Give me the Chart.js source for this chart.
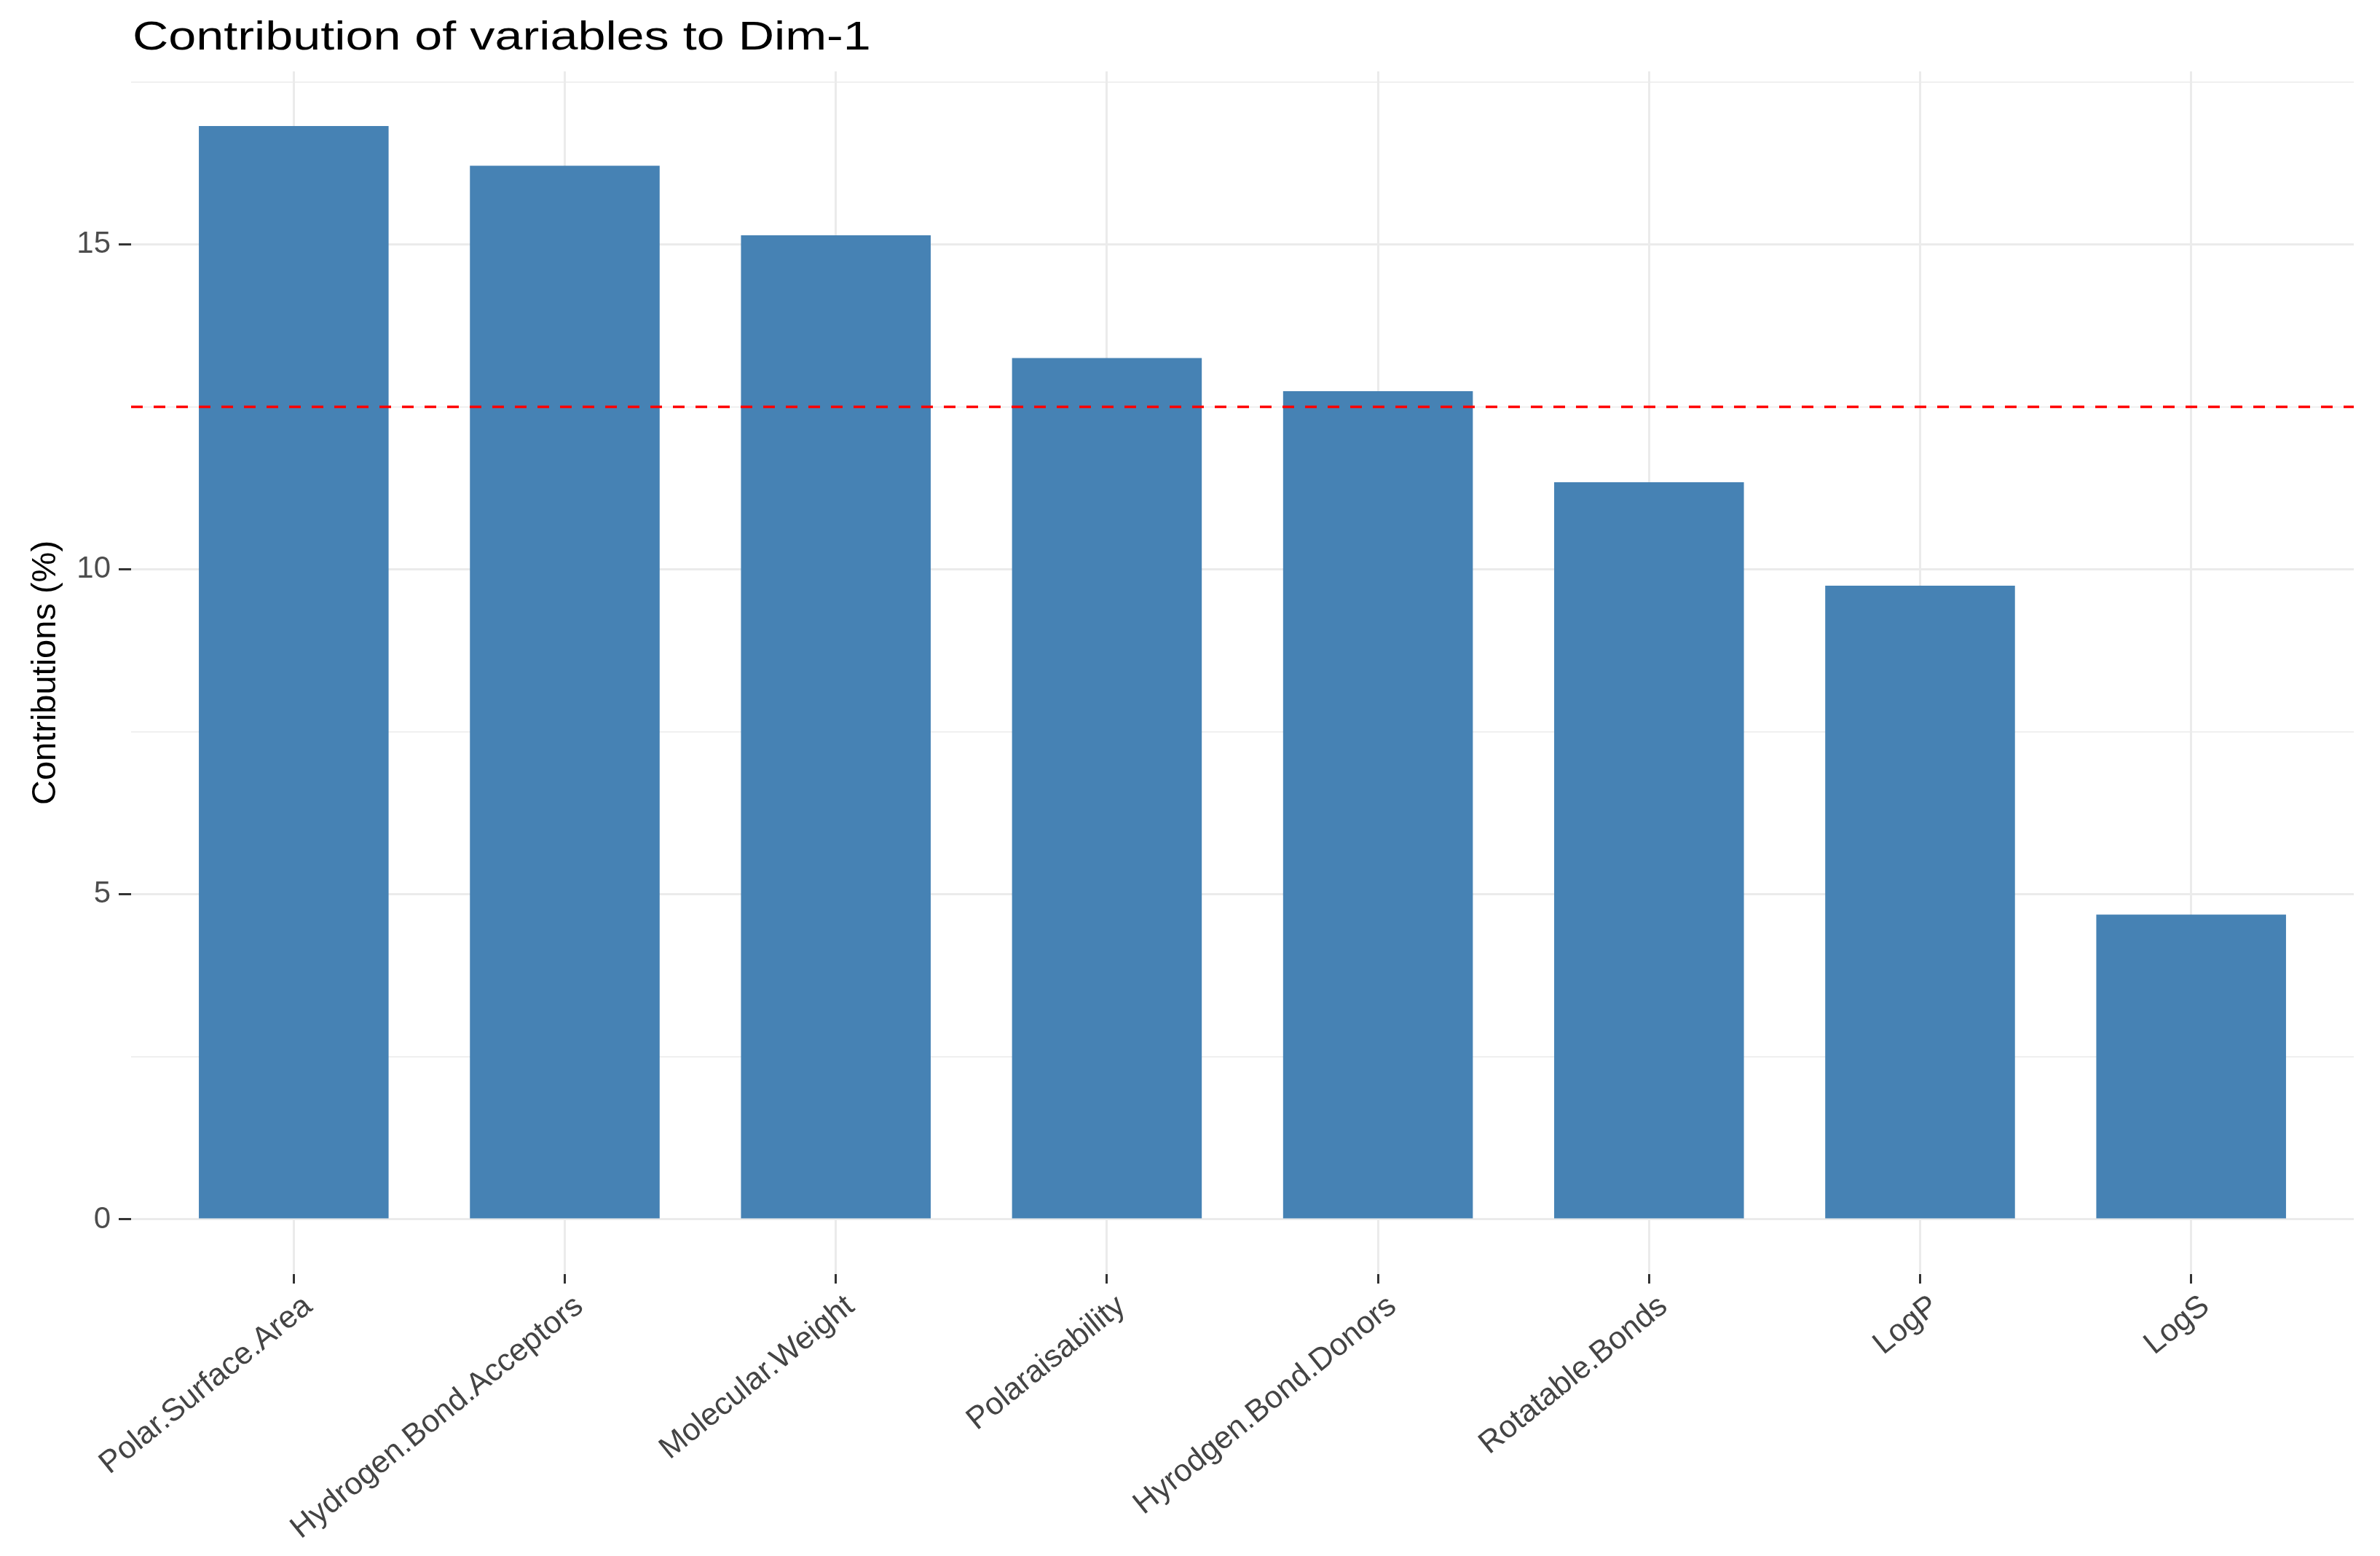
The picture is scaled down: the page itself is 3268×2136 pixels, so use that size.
<!DOCTYPE html>
<html>
<head>
<meta charset="utf-8">
<title>Contribution of variables to Dim-1</title>
<script src="https://cdn.jsdelivr.net/npm/chart.js@4.4.1/dist/chart.umd.min.js"></script>
<style>
  html, body { margin: 0; padding: 0; background: #fff; }
  #grafico { display: block; }
</style>
</head>
<body>
<canvas id="grafico" width="3268" height="2136"></canvas>
<script>
// ===== Dados =====
const categories = ['Polar.Surface.Area', 'Hydrogen.Bond.Acceptors', 'Molecular.Weight', 'Polaraisability',
  'Hyrodgen.Bond.Donors', 'Rotatable.Bonds', 'LogP', 'LogS'];
const contributions = [16.82, 16.21, 15.14, 13.25, 12.74, 11.34, 9.75, 4.69];
const majorTicks = [0, 5, 10, 15];
const minorTicks = [2.5, 7.5, 12.5, 17.5];
const expectedContribution = 12.5; // linha tracejada vermelha

const FONT = '"Liberation Sans", Arial, sans-serif';
Chart.defaults.font.family = FONT;

// limites como no ggplot (expansão de 5% no y, 0.6 no x discreto)
const maxVal = Math.max(...contributions);
const yPad = maxVal * 0.05;

// ===== Linha de referência + título =====
const extrasPlugin = {
  id: 'extras',
  afterDatasetsDraw(chart) {
    const { ctx, chartArea, scales } = chart;
    const y = scales.y.getPixelForValue(expectedContribution);
    ctx.save();
    ctx.strokeStyle = '#FF0000';
    ctx.lineWidth = 3.5;
    ctx.setLineDash([16, 15]);
    ctx.beginPath();
    ctx.moveTo(chartArea.left, y);
    ctx.lineTo(chartArea.right, y);
    ctx.stroke();
    ctx.restore();
  },
  afterDraw(chart) {
    const { ctx, chartArea } = chart;
    ctx.save();
    // o título do original é um pouco "esticado" na horizontal
    ctx.translate(chartArea.left + 2, 68);
    ctx.scale(1.22, 1);
    ctx.fillStyle = '#000';
    ctx.font = '56px ' + FONT;
    ctx.textAlign = 'left';
    ctx.textBaseline = 'alphabetic';
    ctx.fillText('Contribution of variables to Dim-1', 0, 0);
    ctx.restore();
  }
};

const isMajor = v => majorTicks.includes(v);

new Chart(document.getElementById('grafico').getContext('2d'), {
  type: 'bar',
  data: {
    datasets: [{
      data: categories.map((c, i) => ({ x: i + 1, y: contributions[i] })),
      backgroundColor: '#4682B4',
      borderWidth: 0,
      categoryPercentage: 1,
      barPercentage: 0.7
    }]
  },
  options: {
    responsive: false,
    devicePixelRatio: 1,
    animation: false,
    layout: { padding: { top: 98, right: 36, left: 0, bottom: 0 } },
    plugins: {
      legend: { display: false },
      tooltip: { enabled: false },
      title: { display: false }
    },
    scales: {
      x: {
        type: 'linear',
        offset: false,
        min: 0.4,
        max: categories.length + 0.6,
        afterBuildTicks: s => { s.ticks = categories.map((c, i) => ({ value: i + 1 })); },
        afterFit: s => { s.height = 2136 - 1749; },
        border: { display: false },
        grid: {
          offset: false,
          color: '#EBEBEB',
          lineWidth: 3,
          tickLength: 13,
          tickColor: '#333333',
          tickWidth: 3
        },
        ticks: {
          autoSkip: false,
          minRotation: 39,
          maxRotation: 39,
          padding: 6,
          labelOffset: 20,
          color: '#444444',
          font: { size: 43 },
          callback: v => categories[v - 1]
        }
      },
      y: {
        min: -yPad,
        max: maxVal + yPad,
        afterBuildTicks: s => {
          s.ticks = majorTicks.concat(minorTicks).sort((a, b) => a - b).map(v => ({ value: v }));
        },
        afterFit: s => { s.width = 180; },
        border: { display: false },
        grid: {
          color: '#EBEBEB',
          lineWidth: ctx => (isMajor(ctx.tick.value) ? 3 : 1.5),
          tickLength: 17,
          tickColor: ctx => (isMajor(ctx.tick.value) ? '#333333' : 'rgba(0,0,0,0)'),
          tickWidth: 3
        },
        ticks: {
          padding: 11,
          color: '#4D4D4D',
          font: { size: 42 },
          callback: v => (isMajor(v) ? String(v) : '')
        },
        title: {
          display: true,
          text: 'Contributions (%)',
          color: '#000',
          font: { size: 47 },
          padding: { top: 35, bottom: 0 }
        }
      }
    }
  },
  plugins: [extrasPlugin]
});
</script>
</body>
</html>
